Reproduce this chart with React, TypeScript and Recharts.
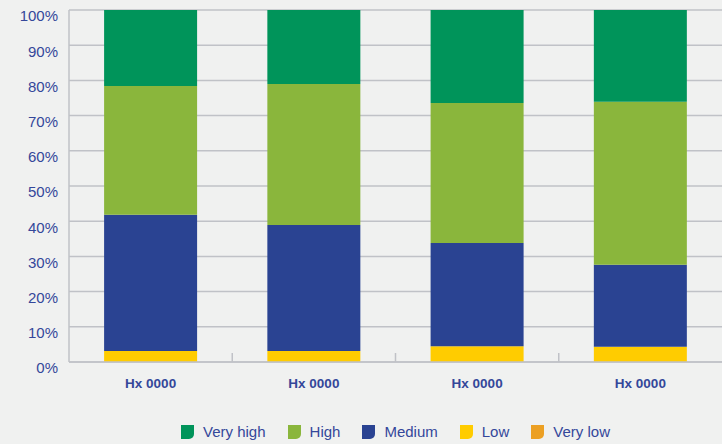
import { Bar, BarChart, CartesianGrid, XAxis, YAxis } from "recharts";

// Répartition empilée en % — 4 périodes, 5 classes (very low absente partout).
const categories = ["Hx 0000", "Hx 0000", "Hx 0000", "Hx 0000"];
const veryLow = [0, 0, 0, 0];
const low = [3.1, 3.1, 4.5, 4.3];
const medium = [38.7, 35.8, 29.3, 23.3];
const high = [36.6, 40.1, 39.8, 46.3];
const veryHigh = [21.6, 21.0, 26.4, 26.1];
const yTicks = [0, 10, 20, 30, 40, 50, 60, 70, 80, 90, 100];

const SERIES = [
  { key: "veryLow", name: "Very low", color: "#eca023" },
  { key: "low", name: "Low", color: "#ffcc00" },
  { key: "medium", name: "Medium", color: "#2a4392" },
  { key: "high", name: "High", color: "#8ab63c" },
  { key: "veryHigh", name: "Very high", color: "#00945a" },
];

const data = categories.map((c, i) => ({
  id: i, cat: c, veryLow: veryLow[i], low: low[i], medium: medium[i], high: high[i], veryHigh: veryHigh[i],
}));

const FONT = "'Liberation Sans', Arial, sans-serif";
const TEXT = "#34479a";
const GRID = "#c0c2c7";

// tick texte + petit repère vertical à la frontière entre deux catégories
const CatTick = (p: any) => {
  const n = p.visibleTicksCount || categories.length;
  const band = (p.width || 653) / n;
  return (
    <g>
      <text x={p.x} y={p.y + 26} textAnchor="middle" fill={TEXT} fontSize={13.5} fontWeight={700} fontFamily={FONT}>
        {categories[p.payload.value] ?? ""}
      </text>
      {p.index < n - 1 && (
        <line x1={p.x + band / 2} x2={p.x + band / 2} y1={p.y - 9} y2={p.y} stroke={GRID} strokeWidth={1.5} />
      )}
    </g>
  );
};

export default function App() {
  return (
    <div style={{ position: "absolute", left: 0, top: 0, width: 722, height: 444, background: "#f0f1f0", fontFamily: FONT }}>
      <BarChart width={722} height={444} data={data} barCategoryGap="21.5%"
        margin={{ top: 10, right: 0, left: 0, bottom: 42 }}>
        <CartesianGrid vertical={false} stroke={GRID} strokeWidth={1.5} />
        <XAxis dataKey="id" type="category" height={40} tickLine={false} tickSize={0} tickMargin={0}
          axisLine={{ stroke: GRID, strokeWidth: 1.5 }} tick={<CatTick />} interval={0} />
        <YAxis width={69} domain={[0, 100]} ticks={yTicks} tickLine={false} tickSize={0} tickMargin={11}
          axisLine={{ stroke: GRID, strokeWidth: 1.5 }} allowDataOverflow
          tick={{ fill: TEXT, fontSize: 15, fontFamily: FONT, dy: 6 }} tickFormatter={(v: number) => `${v}%`} />
        {SERIES.map((s) => (
          <Bar key={s.key} dataKey={s.key} name={s.name} stackId="a" fill={s.color} isAnimationActive={false} />
        ))}
      </BarChart>
      <div style={{ position: "absolute", left: 181, top: 424, display: "flex", alignItems: "center" }}>
        {[...SERIES].reverse().map((s) => (
          <div key={s.key} style={{ display: "flex", alignItems: "center", marginRight: 22 }}>
            <span style={{ width: 13, height: 14, background: s.color, borderBottomRightRadius: 5, marginRight: 9 }} />
            <span style={{ color: TEXT, fontSize: 15, lineHeight: "16px" }}>{s.name}</span>
          </div>
        ))}
      </div>
    </div>
  );
}
